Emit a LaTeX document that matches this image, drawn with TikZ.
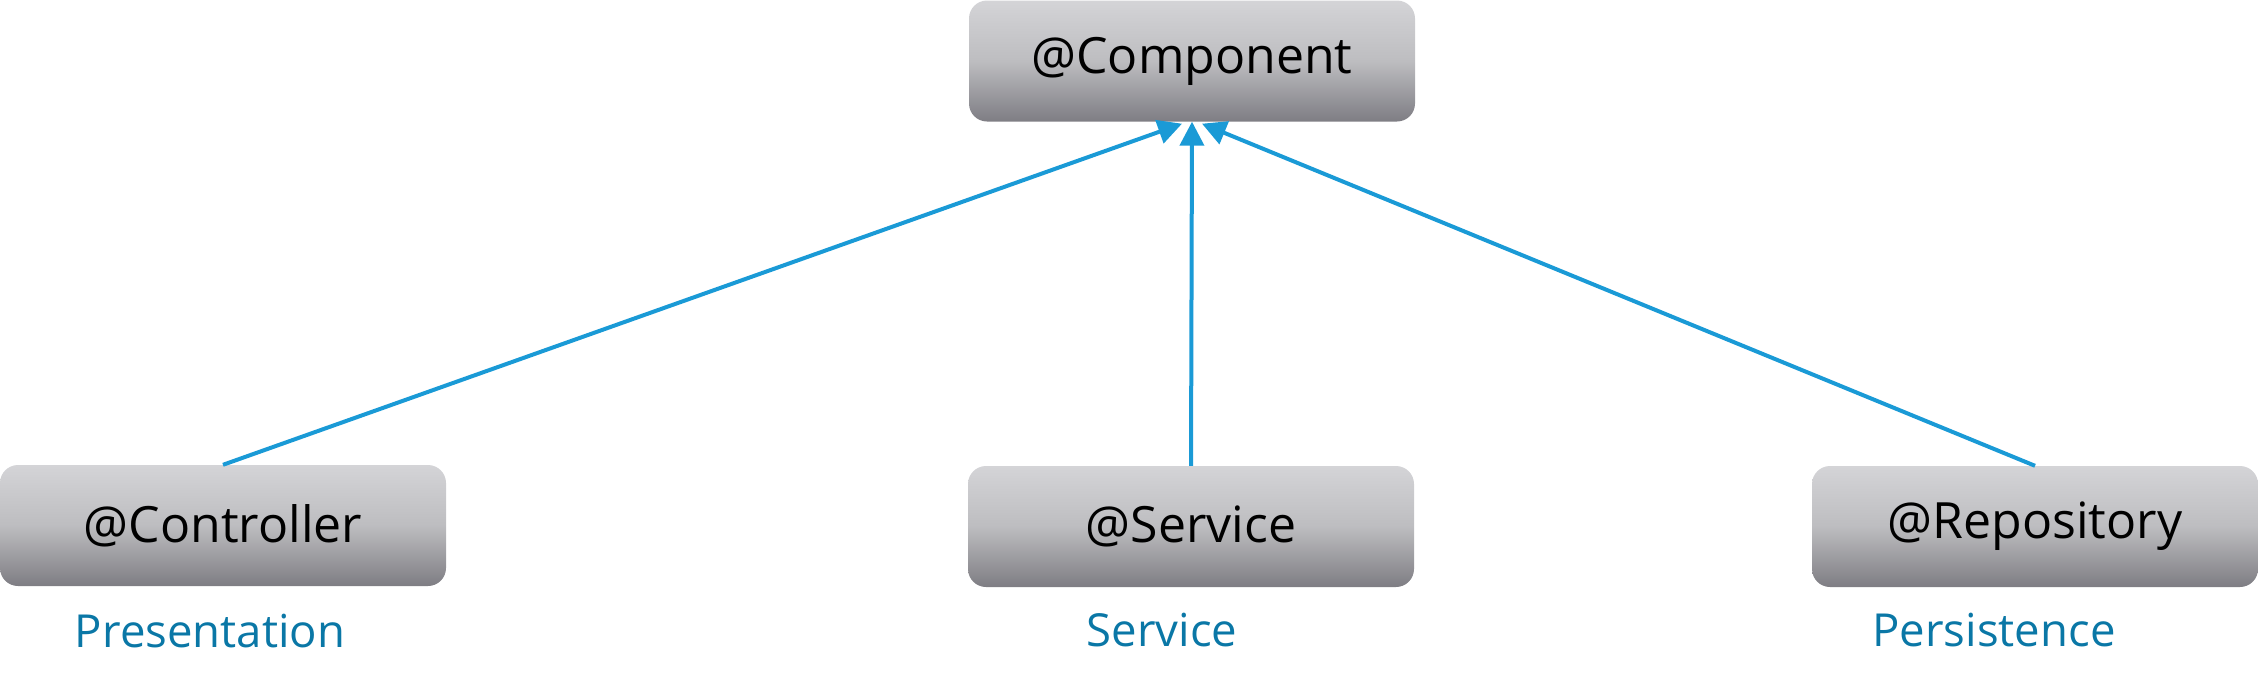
\documentclass[tikz,border=0pt]{standalone}
\usepackage{fontspec}
\setmainfont{Open Sans}
\usetikzlibrary{arrows.meta}
\definecolor{linkblue}{HTML}{1A9AD6}
\definecolor{labelblue}{HTML}{0A77A6}
\definecolor{boxtop}{HTML}{D4D4D7}
\definecolor{boxmid}{HTML}{BDBDC0}
\definecolor{boxbot}{HTML}{7E7D83}
\begin{document}
\begin{tikzpicture}[x=1pt,y=-1pt,
  annot/.style={rectangle, rounded corners=18pt, top color=boxtop, bottom color=boxbot, middle color=boxmid,
    minimum width=446pt, minimum height=121pt, inner sep=0pt,
    font=\fontsize{50}{60}\selectfont},
  layer/.style={text=labelblue, anchor=base, inner sep=0pt,
    font=\fontsize{45.5}{54}\selectfont},
  link/.style={draw=linkblue, line width=4pt,
    -{Triangle[length=24pt,width=24pt]}}]
\useasboundingbox (0,0) rectangle (2258,686);
\node[annot] (comp) at (1192,61) {@Component};
\node[annot] (ctrl) at (223,525.5) {@Controller};
\node[annot] (serv) at (1191,526.5) {@Service};
\node[annot] (repo) at (2035,526.5) {@Repository};
\node[layer] (lpres) at (210,647) {Presentation};
\node[layer] (lserv) at (1162,646) {Service};
\node[layer] (lpers) at (1994,646) {Persistence};
\coordinate (tipl) at ([xshift=-10pt,yshift=-2pt]comp.south);
\coordinate (tipr) at ([xshift=10pt,yshift=-2pt]comp.south);
\draw[link] (ctrl.north) -- (tipl);
\draw[link] (serv.north) -- (comp.south);
\draw[link] (repo.north) -- (tipr);
\end{tikzpicture}
\end{document}
